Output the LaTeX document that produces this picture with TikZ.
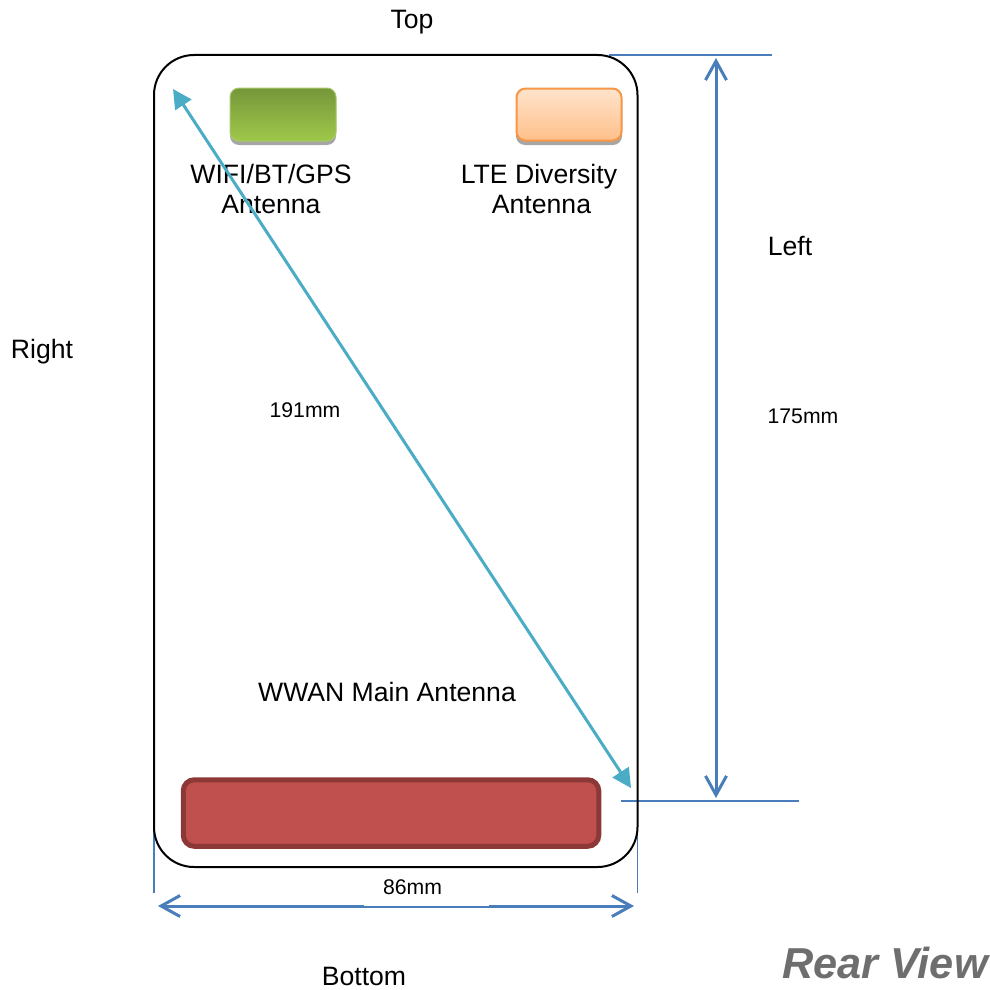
\documentclass[tikz,border=0pt]{standalone}
\usepackage{fontspec}
\setmainfont{Liberation Sans}
\usetikzlibrary{arrows.meta,shadows}
\definecolor{dimblue}{HTML}{4A7EBB}
\definecolor{diagteal}{HTML}{4BACC6}
\definecolor{greentop}{HTML}{76963A}
\definecolor{greenbot}{HTML}{9FC84A}
\definecolor{greenedge}{HTML}{A6C96A}
\definecolor{orangetop}{HTML}{FFE3CC}
\definecolor{orangebot}{HTML}{FFC08A}
\definecolor{orangeedge}{HTML}{F79646}
\definecolor{redfill}{HTML}{C0504D}
\definecolor{rededge}{HTML}{8C3836}
\definecolor{reargray}{HTML}{6E6E6E}
\tikzset{
  x=1pt,y=-1pt,
  label/.style={font=\fontsize{26.6}{30}\selectfont,align=center,text=black,inner sep=0pt},
  small/.style={font=\fontsize{21.2}{24}\selectfont,text=black,inner sep=0pt},
  dimline/.style={draw=dimblue,line width=1.8pt},
  dimarrow/.style={draw=dimblue,line width=3pt,{Straight Barb[length=19pt,width=21pt,line width=3pt]}-{Straight Barb[length=19pt,width=21pt,line width=3pt]}},
  diagarrow/.style={draw=diagteal,line width=3pt,{Triangle[length=19pt,width=19pt]}-{Triangle[length=19pt,width=19pt]}},
  patch/.style={rounded corners=9pt,minimum width=106pt,minimum height=53pt,inner sep=0pt},
}
\begin{document}
\begin{tikzpicture}
\useasboundingbox (0,0) rectangle (989,990);
% extension lines
\coordinate (bl) at (154,750);
\coordinate (blend) at (154,893);
\coordinate (br) at (637.5,750);
\coordinate (brend) at (637.5,893);
\coordinate (tl) at (609,55);
\coordinate (tlend) at (772,55);
\coordinate (bt) at (621,801);
\coordinate (btend) at (799,801);
\draw[dimline] (bl) -- (blend);
\draw[dimline] (br) -- (brend);
\draw[dimline] (tl) -- (tlend);
\draw[dimline] (bt) -- (btend);
% body
\node[draw=black,line width=2pt,rounded corners=40pt,minimum width=483.5pt,minimum height=812pt,inner sep=0pt] (body) at (395.75,461) {};
% patches
\fill[black!35,rounded corners=9pt] (230,92) rectangle (336,145);
\node[patch,draw=greenedge,line width=1pt,top color=greentop,bottom color=greenbot] (wifi) at (283,114.5) {};
\fill[black!35,rounded corners=9pt] (516,92) rectangle (622,145);
\node[patch,draw=orangeedge,line width=2pt,top color=orangetop,bottom color=orangebot,minimum width=105pt,minimum height=52pt] (lte) at (569,114.5) {};
\node[draw=rededge,fill=redfill,line width=5pt,rounded corners=11pt,minimum width=415.5pt,minimum height=66.5pt,inner sep=0pt] (wwan) at (391,813) {};
% labels
\node[label] (top) at (412,22) {Top};
\node[label] (bottom) at (364,976) {Bottom};
\node[label] (left) at (790,246) {Left};
\node[label] (right) at (42,352) {Right};
\node[label] (wifilabel) at (271,189) {WIFI/BT/GPS\\Antenna};
\node[label] (ltelabel) at (539,189) {LTE Diversity\\\hspace*{5pt}Antenna};
\node[label] (wwanlabel) at (387,692) {WWAN Main Antenna};
\node[small] (d191) at (305,410) {191mm};
\node[small] (d175) at (803,416) {175mm};
% dimensions
\coordinate (da) at (173,89);
\coordinate (db) at (631,788);
\draw[diagarrow] (da) -- (db);
\coordinate (va) at (716,58);
\coordinate (vb) at (716,798);
\draw[dimarrow] (va) -- (vb);
\coordinate (ha) at (158,906);
\coordinate (hb) at (634,906);
\draw[dimarrow] (ha) -- (hb);
\node[fill=white,minimum width=125pt,minimum height=1.6pt,inner sep=0pt] (mask) at (426.5,905.2) {};
\node[small] (d86) at (412.5,887) {86mm};
\node[font=\fontsize{43.3}{48}\selectfont\bfseries\itshape,text=reargray,inner sep=0pt] (rear) at (885,963) {Rear View};
\end{tikzpicture}
\end{document}
